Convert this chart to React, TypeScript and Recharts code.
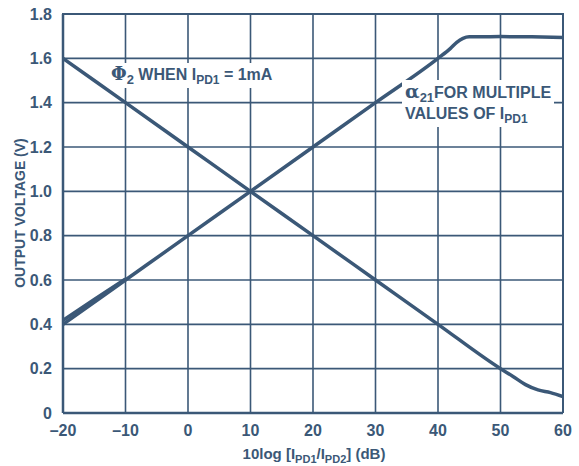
import { LineChart, Line, XAxis, YAxis, CartesianGrid } from 'recharts';

const INK = '#3b5877';
const FONT = '"Liberation Sans", Arial, sans-serif';

const xTicks = [-20, -10, 0, 10, 20, 30, 40, 50, 60];
const yTicks = [0, 0.2, 0.4, 0.6, 0.8, 1.0, 1.2, 1.4, 1.6, 1.8];

// phi2 when Ipd1 = 1mA
const phiX = [-20, -10, 0, 10, 20, 30, 40, 50, 52, 54, 56, 58, 60];
const phiY = [1.6, 1.4, 1.2, 1.0, 0.8, 0.6, 0.4, 0.2, 0.165, 0.128, 0.104, 0.092, 0.074];

// alpha21 for multiple values of Ipd1
const alphaX = [-20, -10, 0, 10, 20, 30, 40, 42, 43, 44, 45, 50, 55, 60];
const alphaY = [0.4, 0.6, 0.8, 1.0, 1.2, 1.4, 1.6, 1.645, 1.672, 1.69, 1.697, 1.698, 1.697, 1.694];

// second trace that splits off near the left end
const alphaX2 = [-20, -15, -10];
const alphaY2 = [0.418, 0.512, 0.605];

const phiData = phiX.map((x, i) => ({ x, y: phiY[i] }));
const alphaData = alphaX.map((x, i) => ({ x, y: alphaY[i] }));
const alphaData2 = alphaX2.map((x, i) => ({ x, y: alphaY2[i] }));

const tickStyle = { fill: INK, fontSize: 16, fontWeight: 700, fontFamily: FONT };
const labelStyle: React.CSSProperties = {
  position: 'absolute',
  color: INK,
  fontFamily: FONT,
  fontWeight: 700,
  whiteSpace: 'nowrap',
  background: '#fff',
  lineHeight: 1,
};

export default function App() {
  return (
    <div style={{ position: 'absolute', left: 0, top: 0, width: 579, height: 466, background: '#fff' }}>
      <LineChart width={579} height={466} margin={{ top: 14, right: 16, bottom: 0, left: 0 }}>
        <CartesianGrid stroke={INK} strokeWidth={1.6} horizontalValues={yTicks} verticalValues={xTicks} />
        <XAxis
          type="number"
          dataKey="x"
          domain={[-20, 60]}
          ticks={xTicks}
          height={53}
          tickLine={false}
          axisLine={{ stroke: INK, strokeWidth: 2.5 }}
          tick={tickStyle}
          tickMargin={6}
          tickFormatter={(v: number) => String(v).replace('-', '\u2013')}
          allowDataOverflow
        />
        <YAxis
          type="number"
          domain={[0, 1.8]}
          ticks={yTicks}
          width={63}
          tickLine={false}
          axisLine={{ stroke: INK, strokeWidth: 2.5 }}
          tick={tickStyle}
          tickMargin={5}
          tickFormatter={(v: number) => (v === 0 ? '0' : v.toFixed(1))}
          allowDataOverflow
        />
        <Line data={alphaData2} dataKey="y" stroke={INK} strokeWidth={3.5} dot={false} isAnimationActive={false} />
        <Line data={alphaData} dataKey="y" type="monotone" stroke={INK} strokeWidth={3.5} dot={false} isAnimationActive={false} />
        <Line data={phiData} dataKey="y" type="monotone" stroke={INK} strokeWidth={3.5} dot={false} isAnimationActive={false} />
      </LineChart>

      {/* top + right frame */}
      <div style={{ position: 'absolute', left: 62, top: 13, width: 501, height: 0, borderTop: `2.5px solid ${INK}` }} />
      <div style={{ position: 'absolute', left: 562, top: 13, width: 0, height: 400, borderLeft: `2.5px solid ${INK}` }} />

      <div style={{ ...labelStyle, left: 109, top: 63, fontSize: 16, padding: '2px 2px' }}>
        <span style={{ fontFamily: '"DejaVu Serif", serif', fontSize: 18 }}>Φ</span>
        <sub style={{ fontSize: 13 }}>2</sub> WHEN I<sub style={{ fontSize: 12 }}>PD1</sub> = 1mA
      </div>

      <div style={{ ...labelStyle, left: 402, top: 80, fontSize: 16, padding: '2px 3px' }}>
        <span style={{ fontFamily: '"DejaVu Serif", serif', fontSize: 19 }}>α</span>
        <sub style={{ fontSize: 13 }}>21</sub>FOR MULTIPLE
        <div style={{ marginTop: 2 }}>
          VALUES OF I<sub style={{ fontSize: 12 }}>PD1</sub>
        </div>
      </div>

      <div
        style={{
          position: 'absolute',
          left: 20,
          top: 213,
          transform: 'translate(-50%, -50%) rotate(-90deg)',
          color: INK,
          fontFamily: FONT,
          fontWeight: 700,
          fontSize: 14,
          whiteSpace: 'nowrap',
        }}
      >
        OUTPUT VOLTAGE (V)
      </div>

      <div
        style={{
          position: 'absolute',
          left: 314,
          top: 446,
          transform: 'translateX(-50%)',
          color: INK,
          fontFamily: FONT,
          fontWeight: 700,
          fontSize: 15,
          whiteSpace: 'nowrap',
          lineHeight: 1,
        }}
      >
        10log [I<sub style={{ fontSize: 11 }}>PD1</sub>/I<sub style={{ fontSize: 11 }}>PD2</sub>] (dB)
      </div>
    </div>
  );
}
